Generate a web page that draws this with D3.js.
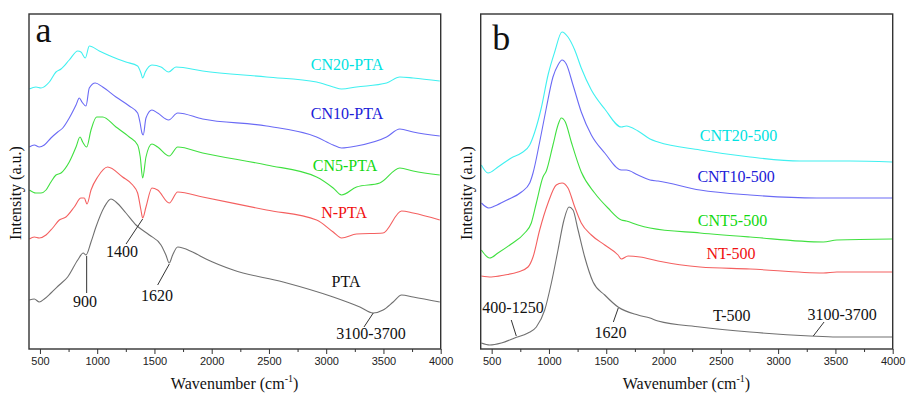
<!DOCTYPE html>
<html>
<head>
<meta charset="utf-8">
<script src="https://cdn.jsdelivr.net/npm/d3@7"></script>
<style>
body { margin: 0; background: #fff; }
svg { display: block; }
.serif { font-family: "Liberation Serif", "Times New Roman", "DejaVu Serif", serif; }
.sans { font-family: "Liberation Sans", Arial, sans-serif; }
</style>
</head>
<body>
<svg id="chart" width="907" height="393"></svg>
<script>
// FTIR spectra, wavenumber (cm-1) vs intensity (a.u., stacked offsets)
const majorTicks = [500, 1000, 1500, 2000, 2500, 3000, 3500, 4000]
const minorTicks = [750, 1250, 1750, 2250, 2750, 3250, 3750]

// panel a
const cn20PTA = [[407,260],[465,262],[509,261],[582,267],[640,277],[684,280],[756,289],[830,298],[858,297],[896,291],[931,303],[1018,298],[1135,292],[1251,287],[1353,283],[1382,276],[1397,271],[1420,277],[1478,284],[1557,282],[1624,277],[1688,282],[1921,278],[2479,272],[2916,267],[3061,262],[3134,260],[3265,262],[3527,266],[3643,272],[3759,271],[3992,268]]
const cn10PTA = [[407,202],[451,204],[494,202],[538,204],[596,211],[655,217],[699,221],[756,231],[815,244],[844,251],[867,247],[902,243],[931,261],[983,266],[1048,262],[1164,252],[1280,243],[1353,236],[1373,227],[1391,216],[1402,214],[1426,231],[1478,239],[1528,236],[1624,229],[1703,236],[1921,230],[2479,223],[2916,212],[3061,204],[3134,201],[3265,203],[3527,212],[3643,220],[3759,217],[3992,213]]
const cn5PTA = [[407,159],[465,156],[509,156],[553,159],[596,167],[640,174],[684,176],[756,187],[815,202],[850,212],[873,207],[908,202],[946,219],[995,232],[1048,232],[1164,222],[1280,212],[1353,204],[1376,192],[1397,171],[1426,192],[1478,205],[1528,202],[1629,193],[1703,202],[1921,196],[2479,184],[2916,172],[3061,161],[3134,154],[3265,162],[3468,166],[3643,181],[3759,178],[3992,174]]
const nPTA = [[407,110],[451,112],[494,111],[553,114],[611,121],[669,129],[727,132],[800,142],[858,151],[887,151],[911,145],[946,159],[1004,172],[1091,182],[1222,172],[1310,164],[1353,156],[1382,139],[1397,131],[1426,142],[1478,161],[1528,159],[1629,146],[1703,157],[1921,152],[2479,139],[2916,129],[3061,117],[3134,111],[3265,115],[3496,116],[3658,138],[3759,136],[3992,129]]
const pta = [[407,49],[451,50],[494,47],[538,50],[596,56],[669,64],[742,72],[830,89],[878,96],[902,94],[946,107],[989,122],[1062,142],[1120,150],[1164,147],[1251,136],[1339,124],[1455,114],[1557,104],[1600,94],[1629,86],[1659,94],[1703,102],[1833,97],[1950,90],[2188,79],[2624,67],[3061,52],[3294,42],[3410,36],[3497,39],[3585,47],[3658,54],[3759,52],[3992,47]]

// panel b
const cnt20 = [[410,184],[468,176],[555,182],[671,191],[759,196],[832,204],[876,217],[933,241],[992,274],[1050,297],[1114,317],[1166,312],[1225,299],[1282,281],[1370,259],[1487,240],[1632,222],[1675,223],[1777,218],[1882,210],[1952,207],[2318,199],[2755,192],[3191,188],[3628,188],[3994,187]]
const cnt10 = [[411,146],[474,141],[527,143],[634,149],[760,157],[832,166],[861,176],[919,207],[977,241],[1035,272],[1079,284],[1114,289],[1151,285],[1210,264],[1282,237],[1370,214],[1487,196],[1632,179],[1675,179],[1777,174],[1882,169],[1952,168],[2318,159],[2755,154],[3337,151],[3994,151]]
const cnt5 = [[410,99],[483,91],[555,96],[671,105],[788,116],[846,126],[890,146],[948,172],[977,178],[1035,204],[1079,224],[1108,231],[1143,227],[1195,207],[1282,177],[1399,156],[1515,141],[1632,129],[1675,128],[1777,124],[1882,121],[2318,116],[2755,112],[3395,107],[3512,109],[3994,110]]
const nt500 = [[410,73],[497,72],[614,74],[730,77],[817,82],[861,92],[919,119],[992,146],[1064,164],[1114,166],[1166,161],[1225,142],[1282,126],[1370,114],[1487,104],[1603,94],[1632,90],[1690,93],[1795,92],[1952,88],[2318,82],[2755,80],[3395,76],[3512,77],[3994,77]]
const t500 = [[410,6],[483,4],[584,6],[701,11],[817,16],[890,22],[963,39],[1021,66],[1079,99],[1131,129],[1175,142],[1210,139],[1254,119],[1312,92],[1385,67],[1487,54],[1603,42],[1777,34],[1882,31],[1952,28],[2318,22],[2755,17],[3279,13],[3512,12],[3994,12]]

// series labels: [text, wavenumber, intensity, colour]
const labelsA = [["CN20-PTA",3182,279,"#00e2e2"],["CN10-PTA",3182,230,"#2020d8"],["CN5-PTA",3164,178,"#10d810"],["N-PTA",3156,131,"#f01010"],["PTA",3173,62,"#111"]]
const labelsB = [["CNT20-500",2654,208,"#00e2e2"],["CNT10-500",2633,167,"#2020d8"],["CNT5-500",2602,123,"#10d810"],["NT-500",2589,90,"#f01010"],["T-500",2595,28,"#111"]]

// peak callouts: [text, text w, text I, line from [w,I], line to [w,I]]
const calloutsA = [["900",893,42,[908,93],[908,56]],["1400",1217,92,[1397,130],[1252,105]],["1620",1522,48,[1630,85],[1528,64]],["3100-3700",3391,10,[3411,36],[3330,22]]]
const calloutsB = [["400-1250",686,36,[671,29],[715,13]],["1620",1537,11,[1605,41],[1562,27]],["3100-3700",3558,29,[3401,27],[3307,13]]]

const svg = d3.select("#chart")
const plotTop = 14, plotBottom = 349

function drawPanel(p) {
	const x = d3.scaleLinear().domain([400, 4000]).range([p.left, p.right])
	const y = d3.scaleLinear().domain([0, 335]).range([plotBottom, plotTop])
	const g = svg.append("g")

	const line = d3.line()
		.x(d => x(d[0]))
		.y(d => y(d[1]))
		.curve(d3.curveMonotoneX)

	g.selectAll("path.spec")
		.data(p.series)
		.enter()
		.append("path")
		.attr("class", "spec")
		.attr("d", d => line(d.values))
		.attr("fill", "none")
		.attr("stroke", d => d.color)
		.attr("stroke-width", 1.1)

	// minor + major ticks on the bottom only
	g.append("g")
		.attr("transform", `translate(0,${plotBottom})`)
		.call(d3.axisBottom(x).tickValues(minorTicks).tickSize(3).tickFormat(""))
		.call(a => a.select(".domain").remove())
		.call(a => a.selectAll("line").attr("stroke", "#333"))
	const ax = g.append("g")
		.attr("transform", `translate(0,${plotBottom})`)
		.call(d3.axisBottom(x).tickValues(majorTicks).tickSize(5).tickPadding(3).tickFormat(d3.format("d")))
	ax.select(".domain").remove()
	ax.attr("font-family", null)
	ax.selectAll("line").attr("stroke", "#333")
	ax.selectAll("text").attr("class", "sans").style("font-size", "11px").attr("fill", "#222")

	g.append("rect")
		.attr("x", p.left + 0.5)
		.attr("y", plotTop)
		.attr("width", p.right - p.left - 0.5)
		.attr("height", plotBottom - plotTop)
		.attr("fill", "none")
		.attr("stroke", "#333")
		.attr("stroke-width", 1.4)

	g.selectAll("text.lab")
		.data(p.labels)
		.enter()
		.append("text")
		.attr("class", "lab serif")
		.attr("x", d => x(d[1]))
		.attr("y", d => y(d[2]))
		.attr("text-anchor", "middle")
		.style("font-size", "16px")
		.attr("fill", d => d[3])
		.text(d => d[0])

	const co = g.selectAll("g.callout")
		.data(p.callouts)
		.enter()
		.append("g")
		.attr("class", "callout")
	co.append("line")
		.attr("x1", d => x(d[3][0]))
		.attr("y1", d => y(d[3][1]))
		.attr("x2", d => x(d[4][0]))
		.attr("y2", d => y(d[4][1]))
		.attr("stroke", "#333")
		.attr("stroke-width", 1)
	co.append("text")
		.attr("class", "serif")
		.attr("x", d => x(d[1]))
		.attr("y", d => y(d[2]))
		.attr("text-anchor", "middle")
		.style("font-size", "16px")
		.attr("fill", "#111")
		.text(d => d[0])

	g.append("text")
		.attr("class", "serif")
		.attr("x", p.left + p.letterDx)
		.attr("y", p.letterY)
		.style("font-size", "36px")
		.attr("fill", "#111")
		.text(p.letter)

	const xl = g.append("text")
		.attr("class", "serif")
		.attr("x", (p.left + p.right) / 2)
		.attr("y", 389)
		.attr("text-anchor", "middle")
		.style("font-size", "16px")
		.attr("fill", "#111")
	xl.append("tspan").text("Wavenumber (cm")
	xl.append("tspan").style("font-size", "10px").attr("dy", -7).text("-1")
	xl.append("tspan").attr("dy", 7).text(")")

	g.append("text")
		.attr("class", "serif")
		.attr("transform", `translate(${p.left - 8},193) rotate(-90)`)
		.attr("text-anchor", "middle")
		.style("font-size", "16px")
		.attr("fill", "#111")
		.text("Intensity (a.u.)")
}

drawPanel({
	left: 28.5, right: 440.7, letter: "a", letterDx: 7, letterY: 42,
	series: [
		{ values: cn20PTA, color: "#40f0f0" },
		{ values: cn10PTA, color: "#6a6af5" },
		{ values: cn5PTA, color: "#40e040" },
		{ values: nPTA, color: "#f46060" },
		{ values: pta, color: "#707070" }
	],
	labels: labelsA,
	callouts: calloutsA
})

drawPanel({
	left: 480.2, right: 892.7, letter: "b", letterDx: 12, letterY: 50,
	series: [
		{ values: cnt20, color: "#40f0f0" },
		{ values: cnt10, color: "#6a6af5" },
		{ values: cnt5, color: "#40e040" },
		{ values: nt500, color: "#f46060" },
		{ values: t500, color: "#707070" }
	],
	labels: labelsB,
	callouts: calloutsB
})
</script>
</body>
</html>
